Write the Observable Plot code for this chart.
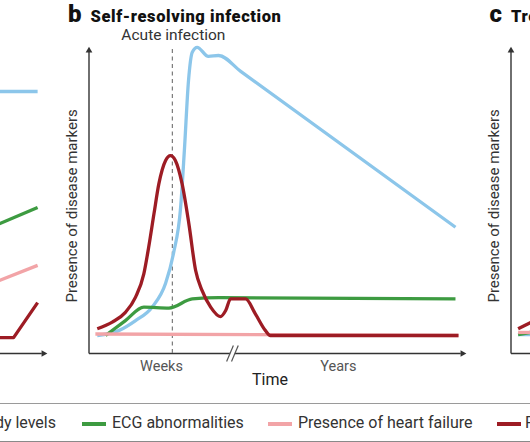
<!DOCTYPE html>
<html><head><meta charset="utf-8">
<script src="https://cdn.jsdelivr.net/npm/d3@7"></script>
<script src="https://cdn.jsdelivr.net/npm/@observablehq/plot@0.6"></script>
<style>
body{margin:0;background:#fff;}
#fig{position:relative;width:530px;height:442px;overflow:hidden;background:#fff;font-family:Roboto,"Noto Sans",sans-serif;}
#fig svg{position:absolute;top:0;pointer-events:none;}
.ttl{position:absolute;top:1px;white-space:nowrap;color:#111;font-weight:900;line-height:26px;}
.ttl .l{font-size:24px;}
.ttl .t{font-size:16.5px;margin-left:9px;letter-spacing:0.6px;}
#legend{position:absolute;left:0;top:403px;width:530px;height:37px;border-top:1.5px solid #9a9a9a;border-bottom:1.5px solid #8a8a8a;}
.li{position:absolute;top:0;height:37px;line-height:37px;font-size:16px;color:#333;white-space:nowrap;}
.sw{position:absolute;top:18px;height:3.5px;width:24px;}
</style></head><body><div id="fig"></div>
<script>
// ---- series (legend order) ----
const seriesNames = ["Antibody levels", "ECG abnormalities", "Presence of heart failure", "Presence of myocardial injury"];
const seriesColors = ["#8cc6ea", "#3d9b41", "#f2a4a7", "#9d1c24"];

// ---- panel titles ----
const panelLetters = ["a", "b", "c"];
const panelTitles = ["Chronic infection", "Self-resolving infection", "Treated infection"];

// ---- shared axis texts ----
const yLabel = "Presence of disease markers";
const xLabel = "Time";
const timeTicks = ["Weeks", "Years"];
const timeTickT = [19.3, 66.4];      // time position (arbitrary units, 0-100)
const breakT = 38.2;                  // axis break position
const acuteLabel = "Acute infection";
const acuteT = 22.2;                  // acute infection time

// ---- panel a (visible tail only) : [time, level] ----
const aAntibody = [[87.5, 85.9], [97.9, 85.9]];
const aECG      = [[87.5, 42.4], [97.9, 47.9]];
const aHF       = [[87.5, 23.8], [97.9, 28.9]];
const aInjury   = [[87.5, 5.2], [91.5, 5.2], [97.9, 16.7]];

// ---- panel b : self-resolving infection ----
const bAntibody = [[2.2, 5.9], [7.9, 7.5], [12.4, 10.8], [16.8, 15.2], [20.4, 23.0], [22.5, 32.8], [24.4, 47.9], [25.4, 66.6], [26.5, 89.5], [27.5, 98.8], [28.8, 100.4], [31.8, 97.4], [34.5, 97.7], [40.4, 92.5], [97.6, 41.4]];
const bECG      = [[4.4, 5.9], [9.7, 10.8], [14.6, 15.2], [21.3, 14.9], [27.5, 17.9], [34.6, 18.3], [97.6, 17.9]];
const bHF       = [[1.7, 6.4], [98.4, 5.9]];
const bInjury   = [[2.2, 8.1], [6.2, 10.3], [9.7, 13.5], [12.4, 18.5], [14.6, 26.1], [15.9, 34.9], [17.3, 45.8], [18.6, 55.6], [20.4, 63.3], [21.7, 64.9], [23.0, 63.3], [24.8, 55.6], [26.6, 42.5], [28.4, 27.2], [30.1, 20.7], [32.4, 15.2], [35.0, 12.1], [36.4, 14.1], [37.7, 17.9], [41.7, 17.9], [44.3, 13.0], [47.0, 7.5], [48.3, 5.9], [98.4, 5.9]];

// ---- panel c (visible start only) ----
const cAntibody = [[1.9, 6.2], [5.6, 6.2]];
const cECG      = [[1.9, 6.2], [5.6, 7.0]];
const cHF       = [[1.9, 6.9], [5.6, 6.9]];
const cInjury   = [[1.9, 8.1], [5.6, 10.4]];

// ---- layout ----
const panelLeft = [-419, 0, 421.5];
const axisColor = "#333";

function panel(series, {curve = "linear", breakAxis = false, acute = false, labels = false} = {}) {
  const marks = [];
  marks.push(Plot.link([0], {x1: 0, x2: 0, y1: 0, y2: 99, stroke: axisColor, strokeWidth: 1.4}));
  marks.push(Plot.dot([0], {x: 0, y: 100, symbol: "triangle2", r: 3.2, fill: axisColor, dy: 2}));
  if (breakAxis) {
    marks.push(Plot.link([0], {x1: 0, x2: breakT - 0.6, y1: 0, y2: 0, stroke: axisColor, strokeWidth: 1.4}));
    marks.push(Plot.link([0], {x1: breakT + 0.6, x2: 99, y1: 0, y2: 0, stroke: axisColor, strokeWidth: 1.4}));
    marks.push(Plot.link([breakT - 0.65, breakT + 0.65], {x1: d => d - 0.9, x2: d => d + 0.9, y1: -2.6, y2: 2.6, stroke: "#555", strokeWidth: 1.2}));
  } else {
    marks.push(Plot.link([0], {x1: 0, x2: 99, y1: 0, y2: 0, stroke: axisColor, strokeWidth: 1.4}));
  }
  marks.push(Plot.dot([0], {x: 100, y: 0, symbol: "triangle2", rotate: 90, r: 3.2, fill: axisColor, dx: -2}));
  if (acute) {
    marks.push(Plot.ruleX([acuteT], {y1: 0, y2: 100, stroke: "#7a7a7a", strokeWidth: 1.2, strokeDasharray: "4,3.5"}));
    marks.push(Plot.text([acuteLabel], {x: acuteT, y: 104.3, fontSize: 15.5, fill: "#333", textAnchor: "middle", dx: 1}));
  }
  if (labels) {
    marks.push(Plot.text(timeTicks, {x: timeTickT, y: -4.3, fontSize: 14.5, fill: "#555"}));
    marks.push(Plot.text([xLabel], {x: 48.2, y: -8.6, fontSize: 16, fill: "#222"}));
  }
  marks.push(Plot.text([yLabel], {x: -4.4, y: 48.4, rotate: -90, fontSize: 15, fill: "#333"}));
  series.forEach((s, i) => {
    marks.push(Plot.line(s, {x: d => d[0], y: d => d[1], stroke: seriesColors[i], strokeWidth: 3.3, curve, strokeLinecap: "butt"}));
  });
  return Plot.plot({
    width: 530, height: 400,
    marginLeft: 88.5, marginRight: 66, marginTop: 48, marginBottom: 47,
    x: {domain: [0, 100], axis: null},
    y: {domain: [0, 100], axis: null},
    style: {background: "transparent", overflow: "visible", fontFamily: "Roboto, 'Noto Sans', sans-serif"},
    marks
  });
}

const fig = document.getElementById("fig");
const panels = [
  panel([aAntibody, aECG, aHF, aInjury]),
  panel([bAntibody, bECG, bHF, bInjury], {curve: "monotone-x", breakAxis: true, acute: true, labels: true}),
  panel([cAntibody, cECG, cHF, cInjury])
];
panels.forEach((p, i) => {
  p.style.left = panelLeft[i] + "px";
  fig.appendChild(p);
  const t = document.createElement("div");
  t.className = "ttl";
  t.style.left = (panelLeft[i] + 68) + "px";
  t.innerHTML = `<span class="l">${panelLetters[i]}</span><span class="t">${panelTitles[i]}</span>`;
  fig.appendChild(t);
});

// ---- legend ----
const legendSwatchX = [-30, 82, 268, 497];
const legendTextX = [null, 112, 298, 525];
const lg = document.createElement("div");
lg.id = "legend";
seriesNames.forEach((n, i) => {
  const sw = document.createElement("div");
  sw.className = "sw";
  sw.style.left = legendSwatchX[i] + "px";
  sw.style.background = seriesColors[i];
  lg.appendChild(sw);
  const tx = document.createElement("div");
  tx.className = "li";
  tx.textContent = n;
  if (legendTextX[i] === null) { tx.style.right = (530 - 56) + "px"; }
  else tx.style.left = legendTextX[i] + "px";
  lg.appendChild(tx);
});
fig.appendChild(lg);
</script></body></html>
